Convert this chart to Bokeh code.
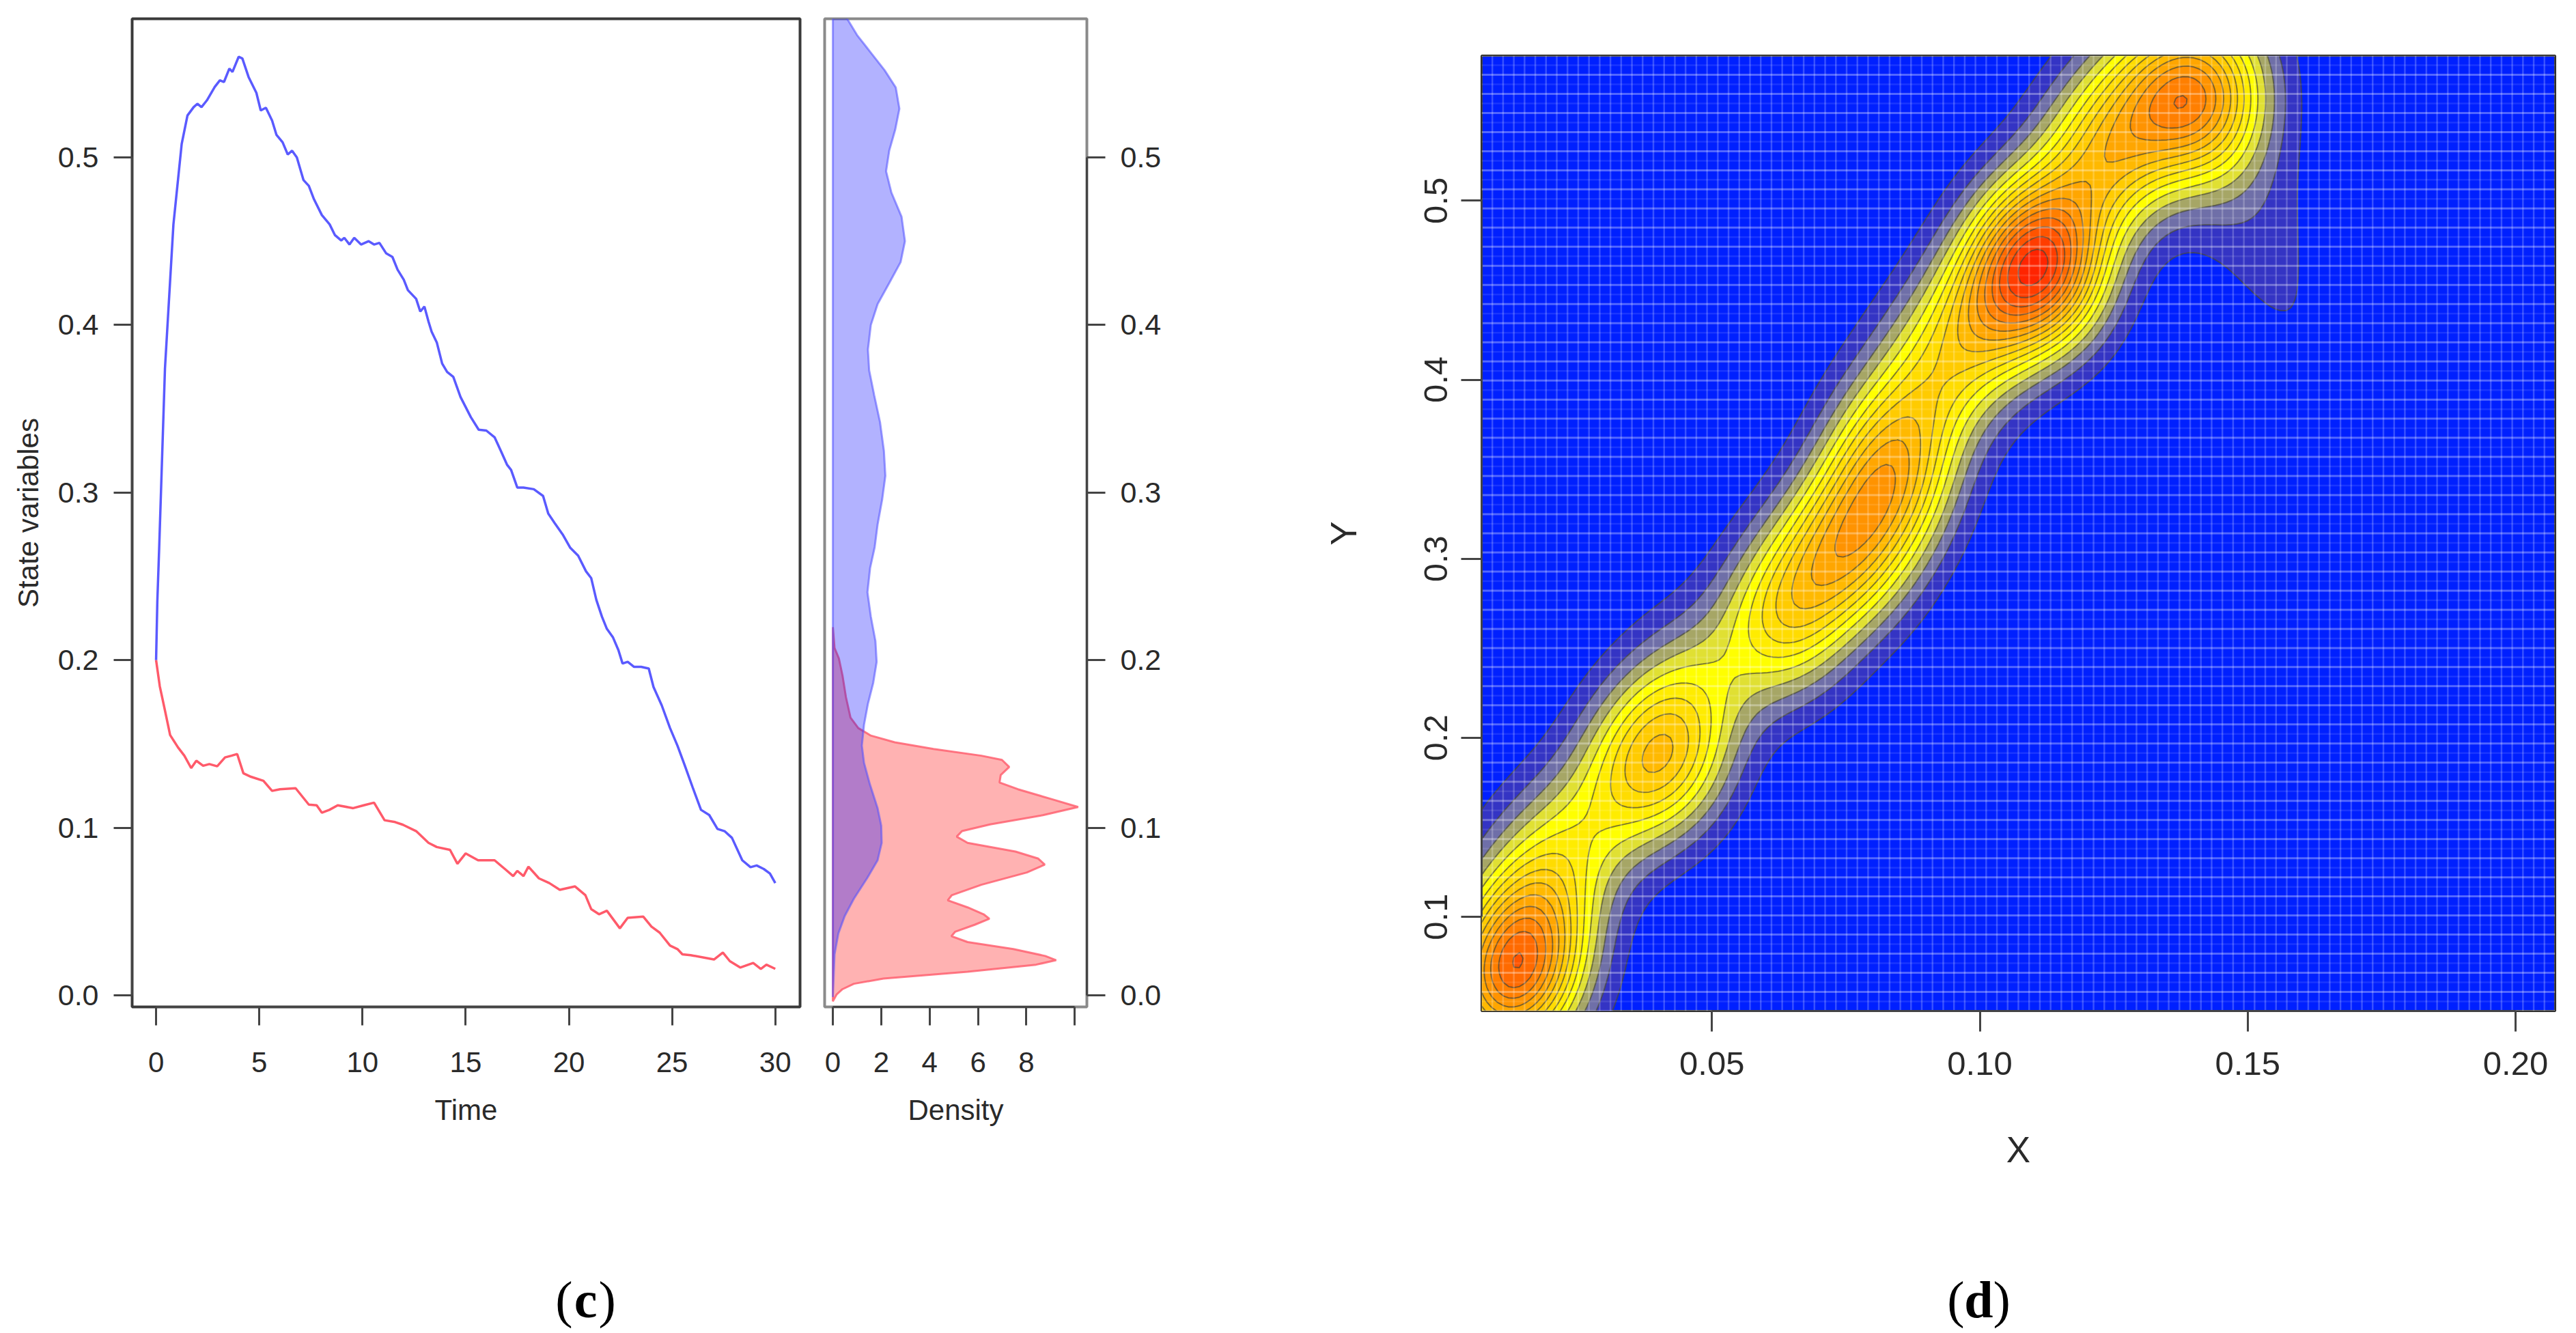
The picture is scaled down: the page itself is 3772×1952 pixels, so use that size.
import numpy as np
from bokeh.plotting import figure
from bokeh.layouts import column, row
from bokeh.models import Range1d, FixedTicker, NumeralTickFormatter, Label
from bokeh.embed import file_html
from bokeh.resources import INLINE

# ---------- panel (c): trajectories ----------
t_blue = [0,0.06,0.15,0.43,0.84,1.24,1.52,1.82,2.0,2.2,2.46,2.84,3.09,3.29,3.55,3.7,4.0,4.18,4.48,4.86,5.07,5.32,5.62,5.83,6.13,6.38,6.59,6.82,7.14,7.4,7.65,8.03,8.41,8.66,8.97,9.12,9.37,9.6,9.93,10.3,10.56,10.82,11.15,11.45,11.7,12.0,12.2,12.6,12.8,13.0,13.2,13.35,13.6,13.86,14.1,14.4,14.75,15.0,15.25,15.63,16.0,16.4,16.7,17.0,17.2,17.5,17.8,18.3,18.75,19.0,19.3,19.7,20.07,20.45,20.83,21.08,21.33,21.6,21.84,22.14,22.4,22.6,22.85,23.16,23.5,23.87,24.1,24.5,24.9,25.26,25.6,26.0,26.4,26.8,27.2,27.54,27.9,28.4,28.8,29.1,29.44,29.74,30.0]
v_blue = [0.2,0.235,0.267,0.374,0.46,0.508,0.525,0.53,0.532,0.53,0.534,0.542,0.546,0.545,0.553,0.551,0.56,0.559,0.548,0.5385,0.528,0.5296,0.522,0.5135,0.509,0.5017,0.504,0.5,0.4865,0.483,0.475,0.4656,0.46,0.4537,0.4504,0.452,0.448,0.452,0.448,0.45,0.448,0.449,0.4427,0.4406,0.433,0.427,0.4208,0.4156,0.408,0.411,0.402,0.396,0.3896,0.377,0.372,0.369,0.357,0.351,0.345,0.3375,0.337,0.333,0.325,0.3167,0.3135,0.303,0.303,0.302,0.298,0.2875,0.282,0.275,0.267,0.2623,0.253,0.249,0.236,0.226,0.2187,0.2135,0.206,0.198,0.199,0.196,0.196,0.195,0.184,0.173,0.1595,0.149,0.1377,0.124,0.1107,0.1076,0.0993,0.098,0.094,0.0806,0.0765,0.0775,0.0754,0.0727,0.067]
t_red = [0,0.18,0.43,0.68,1.06,1.37,1.7,1.95,2.28,2.58,2.96,3.34,3.65,3.93,4.23,4.6,5.2,5.62,6.0,6.76,7.4,7.78,8.03,8.4,8.8,9.55,10.06,10.56,11.07,11.58,11.96,12.6,13.2,13.6,14.24,14.6,15.0,15.6,16.4,16.9,17.3,17.5,17.8,18.04,18.55,19.05,19.56,20.3,20.8,21.08,21.46,21.84,22.47,22.85,23.6,24.0,24.4,24.9,25.26,25.5,25.9,27.03,27.46,27.8,28.3,28.93,29.3,29.57,30.0]
v_red = [0.2,0.1844,0.17,0.1553,0.148,0.143,0.1356,0.14,0.137,0.138,0.1367,0.142,0.143,0.144,0.1325,0.1304,0.128,0.122,0.123,0.1236,0.1138,0.1134,0.109,0.1107,0.1134,0.1117,0.1134,0.115,0.1045,0.1034,0.1018,0.098,0.091,0.0885,0.0868,0.0785,0.0847,0.0806,0.0806,0.0754,0.0712,0.0743,0.0712,0.0768,0.0698,0.067,0.063,0.065,0.0598,0.0515,0.0484,0.0505,0.04,0.0463,0.047,0.041,0.0374,0.0297,0.0276,0.0245,0.024,0.0214,0.0255,0.0204,0.0166,0.0193,0.0158,0.0183,0.0158]

dens_blue_v = [0.60,0.595,0.583,0.573,0.5625,0.552,0.5417,0.529,0.5167,0.504,0.4917,0.479,0.4646,0.45,0.4375,0.425,0.4125,0.40,0.3854,0.373,0.358,0.342,0.325,0.31,0.296,0.281,0.2675,0.255,0.2405,0.226,0.2114,0.199,0.1865,0.174,0.1616,0.149,0.1387,0.126,0.1117,0.1013,0.091,0.0806,0.0702,0.0577,0.0473,0.037,0.0245,-0.001]
dens_blue_d = [0,0.3,0.58,1.0,1.57,2.14,2.6,2.75,2.58,2.33,2.2,2.42,2.84,2.98,2.8,2.33,1.85,1.57,1.45,1.5,1.71,1.95,2.11,2.17,2.04,1.85,1.73,1.54,1.43,1.57,1.76,1.81,1.67,1.45,1.29,1.2,1.29,1.53,1.85,2.0,2.02,1.85,1.43,0.87,0.49,0.23,0.07,0]
dens_red_v = [0.2197,0.2073,0.201,0.1907,0.178,0.1657,0.1595,0.155,0.151,0.147,0.143,0.1405,0.1363,0.1315,0.127,0.123,0.117,0.1124,0.1075,0.102,0.098,0.0947,0.091,0.0858,0.0816,0.078,0.0733,0.066,0.0598,0.0567,0.0525,0.0484,0.0457,0.0421,0.038,0.0353,0.0318,0.0276,0.0235,0.021,0.0183,0.0141,0.01,0.0069,0.0037,0.0006,-0.0035]
dens_red_d = [0,0.07,0.25,0.4,0.54,0.73,1.05,1.57,2.56,4.16,6.14,6.99,7.29,6.94,6.89,7.65,9.06,10.14,8.68,6.5,5.34,5.12,5.57,7.55,8.49,8.76,8.02,6.14,4.92,4.75,5.57,6.23,6.47,5.86,5.06,4.9,5.57,7.46,8.78,9.23,8.4,5.57,2.09,0.87,0.4,0.16,0]

time_ticks = [0,5,10,15,20,25,30]
state_ticks = [0.0,0.1,0.2,0.3,0.4,0.5]
density_ticks = [0,2,4,6,8,10]
x_ticks = [0.05,0.10,0.15,0.20]
y_ticks = [0.1,0.2,0.3,0.4,0.5]

# calibration of panel (d): where the density modes of the trajectory sit in that panel
mode_x_from = [0.0, 0.020, 0.045, 0.073, 0.112, 0.135, 0.22]
mode_x_to   = [-0.005, 0.0131, 0.040, 0.075, 0.111, 0.137, 0.22]
mode_y_from = [0.0, 0.067, 0.098, 0.200, 0.320, 0.455, 0.535, 0.60]
mode_y_to   = [-0.02, 0.050, 0.077, 0.190, 0.320, 0.465, 0.553, 0.62]
# relative height of each mode in panel (d), by the time the trajectory passes it
mode_t      = [0, 1.2, 2, 4, 13, 16, 19, 21, 23, 24.5, 30]
mode_weight = [0.82, 0.82, 1, 1, 1, 0.92, 0.92, 0.88, 0.88, 1, 1]

# ---------- styles ----------
SANS = "Liberation Sans"
BLUE_LINE = "#5a5aff"; RED_LINE = "#ff5a6a"
BAND_COLOURS = ["#3434c4","#6f6fa8","#a6a666","#e0e033","#ffff00","#ffec00","#ffdc00","#ffcb00","#ffb900",
                "#ffa600","#ff9300","#ff7f00","#ff6a00","#ff5400","#ff3d00","#ff2400","#ff1000"]

def style_axis(ax, size, tick_out=27, color="#2a2a2a"):
    ax.major_tick_out = tick_out
    ax.major_tick_in = 0
    ax.minor_tick_line_color = None
    ax.major_tick_line_color = "#444444"
    ax.major_tick_line_width = 3
    ax.axis_line_color = "#444444"
    ax.axis_line_width = 3
    ax.major_label_text_font = SANS
    ax.major_label_text_font_size = f"{size}px"
    ax.major_label_text_color = color
    ax.axis_label_text_font = SANS
    ax.axis_label_text_font_style = "normal"
    ax.axis_label_text_color = color

YR = (-0.0069, 0.5827)

# ---------- left panel ----------
p1 = figure(width=1189, height=1752, frame_width=978, frame_height=1447,
            min_border_left=193, min_border_right=18, min_border_top=27, min_border_bottom=278,
            x_range=Range1d(-1.16, 31.2), y_range=Range1d(*YR),
            output_backend="svg", toolbar_location=None)
p1.grid.visible = False
p1.outline_line_color = "#3a3a3a"; p1.outline_line_width = 4
p1.line(t_blue, v_blue, line_color=BLUE_LINE, line_width=3.5)
p1.line(t_red, v_red, line_color=RED_LINE, line_width=3.5)
style_axis(p1.xaxis[0], 42); style_axis(p1.yaxis[0], 43)
p1.xaxis[0].ticker = FixedTicker(ticks=time_ticks); p1.xaxis[0].bounds = (0, 30)
p1.yaxis[0].ticker = FixedTicker(ticks=state_ticks); p1.yaxis[0].bounds = (0, 0.5)
p1.yaxis[0].formatter = NumeralTickFormatter(format="0.0")
p1.xaxis[0].axis_label = "Time"; p1.yaxis[0].axis_label = "State variables"
p1.xaxis[0].axis_label_text_font_size = "42px"; p1.yaxis[0].axis_label_text_font_size = "42px"
p1.xaxis[0].major_label_standoff = 39; p1.xaxis[0].axis_label_standoff = 29
p1.yaxis[0].major_label_standoff = 22; p1.yaxis[0].axis_label_standoff = 17
p1.yaxis[0].major_label_orientation = "horizontal"

# ---------- density panel ----------
p2 = figure(width=680, height=1752, frame_width=384, frame_height=1447,
            min_border_left=18, min_border_right=278, min_border_top=27, min_border_bottom=278,
            x_range=Range1d(-0.34, 10.5), y_range=Range1d(*YR),
            y_axis_location="right", output_backend="svg", toolbar_location=None)
p2.grid.visible = False
p2.outline_line_color = "#8a8a8a"; p2.outline_line_width = 4
p2.patch(dens_red_d, dens_red_v, fill_color="red", fill_alpha=0.3, line_color=RED_LINE, line_alpha=0.8, line_width=3)
p2.patch(dens_blue_d, dens_blue_v, fill_color="blue", fill_alpha=0.3, line_color="#5050ff", line_alpha=0.55, line_width=3)
style_axis(p2.xaxis[0], 42); style_axis(p2.yaxis[0], 43)
p2.xaxis[0].ticker = FixedTicker(ticks=density_ticks); p2.xaxis[0].bounds = (0, 10)
p2.xaxis[0].major_label_overrides = {10: ""}
p2.yaxis[0].ticker = FixedTicker(ticks=state_ticks); p2.yaxis[0].bounds = (0, 0.5)
p2.yaxis[0].formatter = NumeralTickFormatter(format="0.0")
p2.xaxis[0].axis_label = "Density"; p2.xaxis[0].axis_label_text_font_size = "42px"
p2.xaxis[0].major_label_standoff = 39; p2.xaxis[0].axis_label_standoff = 29
p2.yaxis[0].major_label_standoff = 22
p2.yaxis[0].major_label_orientation = "horizontal"

# ---------- panel (d): kernel density of the trajectory (x = red, y = blue) ----------
XR = (0.0070, 0.2074); YR2 = (0.0474, 0.581)
h_x, h_y = 0.0082, 0.030
t_sample = np.arange(0, 30, 0.01)
xs = np.interp(np.interp(t_sample, t_red, v_red), mode_x_from, mode_x_to)
ys = np.interp(np.interp(t_sample, t_blue, v_blue), mode_y_from, mode_y_to)
ws = np.interp(t_sample, mode_t, mode_weight)
gx = np.linspace(*XR, 200); gy = np.linspace(*YR2, 200)
Zx = np.exp(-0.5*((gx[None, :]-xs[:, None])/h_x)**2)
Zy = np.exp(-0.5*((gy[None, :]-ys[:, None])/h_y)**2)
Z = (Zy.T @ (Zx*ws[:, None]))/(ws.sum()*2*np.pi*h_x*h_y)
step = Z.max()/16.6
levels = [step*k for k in range(1, len(BAND_COLOURS)+2)]

p3 = figure(width=1895, height=1752, frame_width=1572, frame_height=1399,
            min_border_left=300, min_border_right=23, min_border_top=81, min_border_bottom=272,
            x_range=Range1d(*XR), y_range=Range1d(*YR2),
            background_fill_color="#0020ff", output_backend="svg", toolbar_location=None)
p3.grid.visible = False
p3.outline_line_color = "#222222"; p3.outline_line_width = 3
p3.contour(gx, gy, Z, levels, fill_color=BAND_COLOURS, line_color="#4a4a30", line_alpha=0.65, line_width=2)

cells = 100
ex = np.linspace(*XR, cells+1); ey = np.linspace(*YR2, cells+1)
p3.multi_line([[e, e] for e in ex], [list(YR2)]*len(ex), line_color="white", line_alpha=0.22, line_width=2.5)
p3.multi_line([list(XR)]*len(ey[::2]), [[e, e] for e in ey[::2]], line_color="white", line_alpha=0.32, line_width=3)
p3.multi_line([list(XR)]*len(ey[1::2]), [[e, e] for e in ey[1::2]], line_color="white", line_alpha=0.1, line_width=2.5)

style_axis(p3.xaxis[0], 49, tick_out=30); style_axis(p3.yaxis[0], 49, tick_out=30)
p3.xaxis[0].ticker = FixedTicker(ticks=x_ticks); p3.xaxis[0].bounds = (0.05, 0.20)
p3.xaxis[0].formatter = NumeralTickFormatter(format="0.00")
p3.yaxis[0].ticker = FixedTicker(ticks=y_ticks); p3.yaxis[0].bounds = (0.1, 0.5)
p3.yaxis[0].formatter = NumeralTickFormatter(format="0.0")
p3.yaxis[0].major_label_orientation = "vertical"
p3.xaxis[0].axis_label = "X"; p3.yaxis[0].axis_label = "Y"
p3.xaxis[0].axis_label_text_font_size = "53px"; p3.yaxis[0].axis_label_text_font_size = "53px"
p3.xaxis[0].major_label_standoff = 30; p3.xaxis[0].axis_label_standoff = 77
p3.yaxis[0].major_label_standoff = 20; p3.yaxis[0].axis_label_standoff = 87

# ---------- captions ----------
cap = figure(width=3764, height=199, x_range=Range1d(0, 3764), y_range=Range1d(1951, 1752),
             output_backend="svg", toolbar_location=None, min_border=0)
cap.axis.visible = False; cap.grid.visible = False; cap.outline_line_color = None
for cx, ch in [(857, "c"), (2897, "d")]:
    w = 19 if ch == "c" else 21
    cap.add_layout(Label(x=cx-w, y=1902, text="(", text_font="Liberation Serif", text_font_size="76px",
                         text_align="right", text_baseline="middle", text_color="black"))
    cap.add_layout(Label(x=cx, y=1902, text=ch, text_font="Liberation Serif", text_font_size="76px",
                         text_font_style="bold", text_align="center", text_baseline="middle", text_color="black"))
    cap.add_layout(Label(x=cx+w, y=1902, text=")", text_font="Liberation Serif", text_font_size="76px",
                         text_align="left", text_baseline="middle", text_color="black"))

layout = column(row(row(p1, p2, spacing=0), column(p3), spacing=0), cap, spacing=0)
open("out.html", "w").write(file_html(layout, INLINE))
